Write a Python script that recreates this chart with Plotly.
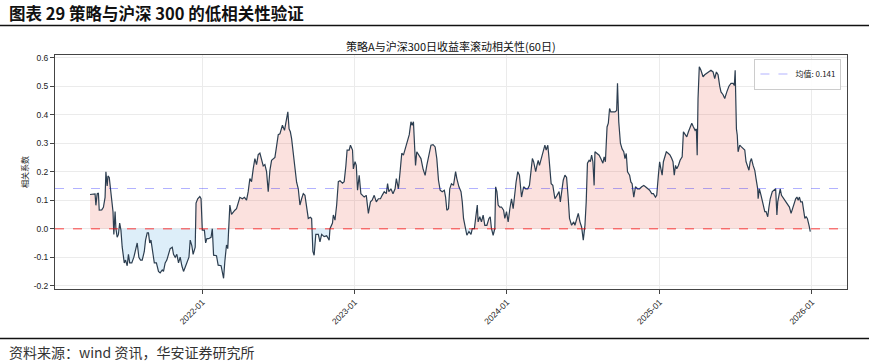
import numpy as np
import pandas as pd
import plotly.graph_objects as go

# ---------------- data ----------------
START_DATE = "2021-04-07"
# days since START_DATE for each observation of the 60-day rolling correlation
day_offsets = [
    0, 12, 14, 17, 20, 22, 28, 32, 36, 38, 41, 43, 46, 49, 52, 55, 57, 60, 62, 65,
    68, 71, 74, 77, 82, 85, 89, 92, 95, 100, 105, 109, 113, 117, 121, 125, 130, 133, 137, 140,
    143, 146, 151, 154, 159, 164, 168, 173, 176, 180, 184, 188, 192, 197, 200, 204, 208, 212, 216, 220,
    224, 228, 232, 237, 240, 244, 247, 252, 254, 258, 263, 266, 269, 274, 277, 280,
    284, 290, 293, 296, 303, 307, 314, 317, 320, 323, 327, 330, 333, 335, 339, 343, 347, 351, 355, 359,
    365, 370, 375, 379, 383, 387, 391, 395, 399, 403, 407, 411, 415, 419, 423, 427, 431, 435, 439, 443,
    447, 451, 455, 461, 466, 470, 474, 477, 480, 483, 487, 491, 495, 499, 503, 507, 511, 515, 519, 523,
    528, 531, 534, 537, 541, 547, 551, 555, 561,
    567, 573, 575, 581, 583, 587, 591, 595, 599, 605, 609, 613, 616, 621, 624, 629, 631, 635, 638, 641,
    645, 649, 653, 657, 662, 667, 672, 676, 681, 686, 691, 696, 700, 705, 710, 713, 716, 721, 726, 731,
    734, 739, 743, 747, 751, 756, 761, 765, 769, 772, 775, 777, 780, 783, 788, 793, 798, 803, 807, 812,
    817, 822, 827, 831, 835, 839, 844, 849, 852,
    855, 859, 862, 866, 871, 876, 879, 884, 889, 892, 895, 900, 903, 908, 913, 916, 921, 924, 928, 930,
    934, 938, 942, 946, 951, 956, 959, 962, 966, 970, 972, 975, 978, 982, 986, 991, 994, 998, 1002, 1006,
    1010, 1014, 1018, 1021, 1025, 1029, 1034, 1039, 1044, 1049, 1053, 1057, 1060, 1063, 1068, 1071, 1074, 1077, 1082, 1087,
    1090, 1093, 1097, 1100, 1105, 1109, 1114, 1119, 1124, 1127, 1130, 1134,
    1138, 1142, 1146, 1149, 1154, 1159, 1162, 1167, 1170, 1174, 1178, 1182, 1186, 1189, 1192, 1196, 1199, 1202, 1205, 1208,
    1210, 1215, 1220, 1224, 1229, 1232, 1235, 1239, 1242, 1245, 1248, 1253, 1258, 1262, 1264, 1267, 1271, 1275, 1279, 1282,
    1285, 1288, 1293, 1296, 1299, 1303, 1307, 1312, 1317, 1322, 1327, 1331, 1336, 1341, 1346, 1350, 1355, 1358, 1362, 1365,
    1368, 1371, 1374, 1378, 1381, 1386, 1390, 1394, 1397, 1400, 1403, 1406, 1410, 1414, 1419, 1422,
    1430, 1434, 1438, 1442, 1446, 1450, 1453, 1455, 1457, 1460, 1464, 1469, 1473, 1478, 1483, 1488, 1493, 1497, 1501, 1505,
    1509, 1512, 1517, 1521, 1526, 1531, 1536, 1541, 1544, 1546, 1549, 1551, 1553, 1557, 1561, 1566, 1569, 1572, 1576, 1579,
    1582, 1585, 1589, 1593, 1596, 1600, 1601, 1604, 1608, 1611, 1614, 1617, 1620, 1624, 1627, 1630, 1635, 1640, 1643, 1646,
    1648, 1651, 1654, 1657, 1662, 1667, 1672, 1676, 1680, 1683, 1686, 1691, 1694, 1697, 1700, 1703, 1707, 1710, 1713, 1716,
    1719, 1723, 1726,
]
corr_values = [
    0.12, 0.122, 0.082, 0.122, 0.125, 0.065, 0.066, 0.075, 0.11, 0.20, 0.15, 0.185, 0.18, 0.13, 0.11, 0.06, -0.02, 0.06, 0.0, -0.03,
    -0.02, 0.02, -0.005, -0.064, -0.12, -0.11, -0.13, -0.09, -0.12, -0.12, -0.10, -0.07, -0.05, -0.10, -0.11, -0.11, -0.08, -0.04, -0.015, -0.015,
    -0.05, -0.04, -0.09, -0.12, -0.12, -0.15, -0.155, -0.145, -0.15, -0.12, -0.11, -0.09, -0.07, -0.065, -0.09, -0.10, -0.09, -0.12, -0.10, -0.13,
    -0.15, -0.135, -0.12, -0.10, -0.04, -0.06, -0.09, -0.065, 0.09, 0.105, 0.113, 0.105, -0.005, -0.005, -0.05, -0.035,
    -0.035, -0.03, 0.0, -0.093, -0.095, -0.128, -0.13, -0.15, -0.174, -0.115, -0.057, -0.07, 0.0, 0.083, 0.05, 0.06, 0.065, 0.07, 0.09, 0.11,
    0.105, 0.11, 0.10, 0.13, 0.176, 0.165, 0.21, 0.246, 0.225, 0.26, 0.265, 0.246, 0.22, 0.225, 0.20, 0.13, 0.205, 0.24, 0.246, 0.25,
    0.29, 0.33, 0.333, 0.363, 0.345, 0.387, 0.41, 0.35, 0.34, 0.316, 0.26, 0.21, 0.163, 0.14, 0.083, 0.105, 0.123, 0.117, 0.083, 0.036,
    0.04, 0.036, -0.08, -0.093, -0.02, -0.02, -0.046, -0.02, -0.028,
    -0.025, -0.04, 0.0, 0.02, 0.048, 0.03, 0.083, 0.165, 0.168, 0.16, 0.165, 0.22, 0.276, 0.276, 0.293, 0.276, 0.21, 0.235, 0.222, 0.135,
    0.187, 0.123, 0.117, 0.111, 0.117, 0.054, 0.094, 0.10, 0.117, 0.094, 0.105, 0.105, 0.117, 0.13, 0.123, 0.158, 0.13, 0.14, 0.123, 0.14,
    0.176, 0.14, 0.2, 0.265, 0.258, 0.287, 0.31, 0.33, 0.375, 0.363, 0.375, 0.305, 0.222, 0.27, 0.258, 0.246, 0.21, 0.187, 0.222, 0.258,
    0.293, 0.295, 0.287, 0.246, 0.17, 0.135, 0.13, 0.135, 0.111,
    0.065, 0.07, 0.14, 0.158, 0.152, 0.2, 0.176, 0.147, 0.13, 0.094, 0.036, 0.0, -0.023, -0.01, -0.02, 0.0, 0.0, 0.036, 0.083, 0.024,
    0.042, 0.024, 0.048, 0.012, 0.012, 0.036, 0.042, 0.0, -0.023, 0.0, 0.147, 0.13, 0.083, 0.076, 0.076, 0.065, 0.036, 0.06, 0.024, 0.07,
    0.105, 0.07, 0.14, 0.164, 0.2, 0.188, 0.111, 0.147, 0.14, 0.14, 0.152, 0.21, 0.246, 0.235, 0.2, 0.222, 0.24, 0.222, 0.246, 0.276,
    0.293, 0.276, 0.293, 0.246, 0.158, 0.152, 0.105, 0.117, 0.13, 0.094, 0.13, 0.17,
    0.188, 0.18, 0.105, 0.036, 0.012, 0.024, 0.012, 0.036, 0.054, 0.024, 0.006, -0.04, 0.012, 0.094, 0.23, 0.24, 0.235, 0.258, 0.235, 0.152,
    0.27, 0.264, 0.258, 0.246, 0.23, 0.252, 0.235, 0.357, 0.37, 0.422, 0.41, 0.41, 0.41, 0.415, 0.51, 0.375, 0.3, 0.28, 0.27, 0.246,
    0.264, 0.2, 0.188, 0.164, 0.158, 0.111, 0.147, 0.14, 0.14, 0.147, 0.152, 0.147, 0.14, 0.135, 0.123, 0.123, 0.111, 0.117, 0.188, 0.235,
    0.21, 0.188, 0.235, 0.258, 0.27, 0.264, 0.258, 0.246, 0.235, 0.188, 0.222, 0.21, 0.222, 0.24, 0.252, 0.34,
    0.322, 0.34, 0.357, 0.37, 0.357, 0.345, 0.35, 0.258, 0.457, 0.568, 0.556, 0.533, 0.54, 0.545, 0.55, 0.556, 0.55, 0.527, 0.55, 0.54,
    0.5, 0.48, 0.47, 0.457, 0.48, 0.5, 0.51, 0.51, 0.503, 0.556, 0.35, 0.328, 0.27, 0.293, 0.287, 0.28, 0.276, 0.235, 0.216, 0.205,
    0.235, 0.246, 0.222, 0.205, 0.176, 0.14, 0.105, 0.14, 0.117, 0.094, 0.076, 0.06, 0.06, 0.042, 0.076, 0.105, 0.13, 0.135, 0.14, 0.048,
    0.094, 0.117, 0.14, 0.117, 0.105, 0.094, 0.083, 0.076, 0.054, 0.07, 0.083, 0.105, 0.111, 0.1, 0.111, 0.094, 0.094, 0.06, 0.036, 0.042,
    0.036, 0.012, -0.01,
]
mean_value = 0.141
tick_dates = ["2022-01-01", "2023-01-01", "2024-01-01", "2025-01-01", "2026-01-01"]
tick_labels = ["2022-01", "2023-01", "2024-01", "2025-01", "2026-01"]
y_ticks = [-0.2, -0.1, 0.0, 0.1, 0.2, 0.3, 0.4, 0.5, 0.6]

header_text = "图表 29 策略与沪深 300 的低相关性验证"
chart_title = "策略A与沪深300日收益率滚动相关性(60日)"
y_title = "相关系数"
legend_label = f"均值: {mean_value}"
source_text = "资料来源：wind 资讯，华安证券研究所"

# ---------------- figure ----------------
W, H = 869, 361
ML, MR, MT, MB = 55, 22, 55, 72
PW, PH = W - ML - MR, H - MT - MB


def px(xp):
    return (xp - ML) / PW


def py(yp):
    return (H - MB - yp) / PH


start = pd.Timestamp(START_DATE)
d = np.asarray(day_offsets, dtype=float)
v = np.asarray(corr_values, dtype=float)
dates = start + pd.to_timedelta(d, unit="D")

# insert zero crossings so the split fill meets exactly at zero
xs, ys = [], []
for i in range(len(v)):
    if i > 0 and v[i - 1] * v[i] < 0:
        f = v[i - 1] / (v[i - 1] - v[i])
        xs.append(d[i - 1] + f * (d[i] - d[i - 1]))
        ys.append(0.0)
    xs.append(d[i])
    ys.append(v[i])
xs = np.asarray(xs)
ys = np.asarray(ys)
fill_dates = start + pd.to_timedelta(xs, unit="D")

fig = go.Figure()
fig.add_trace(go.Scatter(x=fill_dates, y=np.maximum(ys, 0), mode="lines", line=dict(width=0),
                         fill="tozeroy", fillcolor="rgba(231,76,60,0.17)", showlegend=False, hoverinfo="skip"))
fig.add_trace(go.Scatter(x=fill_dates, y=np.minimum(ys, 0), mode="lines", line=dict(width=0),
                         fill="tozeroy", fillcolor="rgba(52,152,219,0.17)", showlegend=False, hoverinfo="skip"))
fig.add_trace(go.Scatter(x=dates, y=v, mode="lines", line=dict(color="#2c3e50", width=1.2), showlegend=False))

x0 = start - pd.Timedelta(days=84)
x1 = start + pd.Timedelta(days=1814)

# zero line and mean line
fig.add_trace(go.Scatter(x=[x0, x1], y=[0, 0], mode="lines",
                         line=dict(color="rgba(255,0,0,0.5)", width=1.5, dash="dash"), showlegend=False, hoverinfo="skip"))
fig.add_trace(go.Scatter(x=[x0, x1], y=[mean_value, mean_value], mode="lines", name=legend_label,
                         line=dict(color="rgba(0,0,255,0.3)", width=1.2, dash="dash"), showlegend=True))

fig.update_xaxes(range=[x0, x1], tickvals=pd.to_datetime(tick_dates), ticktext=tick_labels, tickangle=-45,
                 showgrid=True, gridcolor="#ebebeb", gridwidth=1, showline=True, linecolor="#444", linewidth=1,
                 mirror=True, ticks="outside", ticklen=4, tickcolor="#444",
                 tickfont=dict(family="Liberation Sans, Arial", size=8.5, color="#222"), zeroline=False)
fig.update_yaxes(range=[-0.2116, 0.6095], tickvals=y_ticks, ticktext=[f"{t:.1f}" for t in y_ticks],
                 showgrid=True, gridcolor="#ebebeb", gridwidth=1, showline=True, linecolor="#444", linewidth=1,
                 mirror=True, ticks="outside", ticklen=4, tickcolor="#444", zeroline=False,
                 tickfont=dict(family="Liberation Sans, Arial", size=8.5, color="#222"),
                 title=dict(text=y_title, font=dict(family="Noto Sans CJK SC", size=8, color="#222"), standoff=3))

fig.update_layout(
    width=W, height=H, margin=dict(l=ML, r=MR, t=MT, b=MB, autoexpand=False),
    paper_bgcolor="white", plot_bgcolor="white",
    legend=dict(x=0.993, y=0.985, xanchor="right", yanchor="top", bgcolor="rgba(255,255,255,0.9)",
                bordercolor="#cccccc", borderwidth=1, font=dict(family="Noto Sans CJK SC, Liberation Sans", size=8, color="#222"),
                itemwidth=30),
    shapes=[
        dict(type="line", xref="paper", yref="paper", x0=px(0), x1=px(W), y0=py(25.5), y1=py(25.5),
             line=dict(color="#111", width=1.5)),
        dict(type="line", xref="paper", yref="paper", x0=px(0), x1=px(W), y0=py(338.5), y1=py(338.5),
             line=dict(color="#111", width=1.5)),
    ],
    annotations=[
        dict(text=f"<b>{header_text}</b>", xref="paper", yref="paper", x=px(7), y=py(13), xanchor="left",
             yanchor="middle", showarrow=False, font=dict(family="Noto Sans CJK SC", size=16.5, color="#111")),
        dict(text=chart_title, xref="paper", yref="paper", x=0.5, y=py(46), xanchor="center", yanchor="middle",
             showarrow=False, font=dict(family="Noto Sans CJK SC", size=11, color="#111")),
        dict(text=source_text, xref="paper", yref="paper", x=px(7), y=py(352), xanchor="left", yanchor="middle",
             showarrow=False, font=dict(family="Noto Sans CJK SC", size=14, color="#333")),
    ],
)

fig.write_html("out.html", config={"displayModeBar": False},
               post_script="document.body.style.margin='0';document.body.style.overflow='hidden';")
